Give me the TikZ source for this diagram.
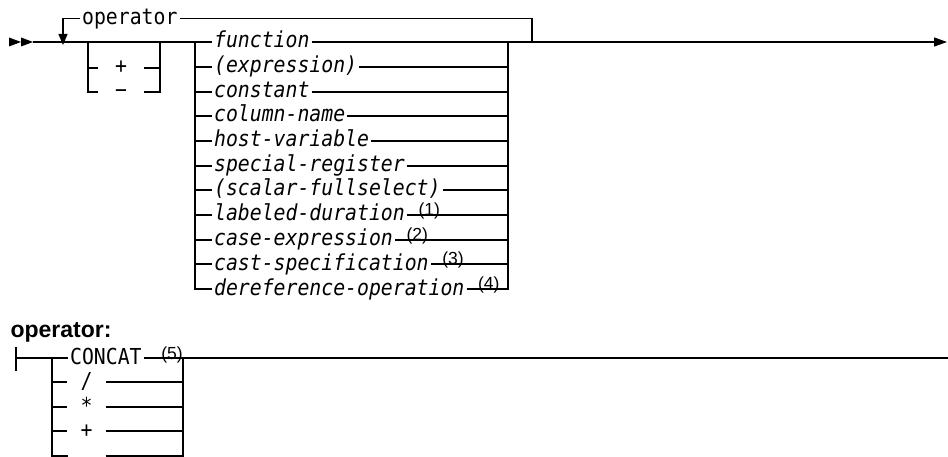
\documentclass[tikz,border=0pt]{standalone}
\usepackage{fontspec}
\setmainfont{Liberation Sans}
\newfontfamily\synmono[FakeStretch=0.9]{DejaVu Sans Mono}
\usetikzlibrary{positioning,arrows.meta}

\begin{document}
\begin{tikzpicture}[x=1pt,y=-1pt,line width=1.2pt,
    kw/.style={font=\synmono\fontsize{22}{24}\selectfont,inner sep=0pt,inner xsep=1.5pt,
        text height=17pt,text depth=5pt},
    var/.style={kw,font=\synmono\itshape\fontsize{22}{24}\selectfont,anchor=west},
    opsym/.style={kw,minimum width=38pt},
    note/.style={font=\fontsize{17.5}{19}\selectfont,inner sep=0pt,anchor=base west},
    tip/.style={-{Triangle[length=13pt,width=9pt]}}]

    \useasboundingbox (0,0) rectangle (948,457);

    % main line
    \fill (9,37.5) -- (21,42) -- (9,46.5) -- cycle;
    \fill (21,37.5) -- (33,42) -- (21,46.5) -- cycle;
    \coordinate (in) at (33,42);
    \coordinate (split) at (195,42);
    \coordinate (join) at (508,42);
    \coordinate (out) at (947,42);
    \draw (in) -- (split);
    \draw[tip] (join) -- (out);

    % repeat loop
    \node[kw,anchor=west] (oploop) at (80,18.5) {operator};
    \draw (532,42) |- (oploop.east);
    \draw[-{Triangle[length=11pt,width=9pt]}] (oploop.west) -| (63,45);

    % optional sign
    \node[kw,minimum width=44pt] (plus) at (121,68) {+};
    \node[kw,minimum width=44pt] (minus) at (121,92) {−};
    \draw (88,42) |- (minus.west);
    \draw (88,68) -- (plus.west);
    \draw (plus.east) -- (160,68);
    \draw (minus.east) -| (160,42);

    % operands
    \node[var] (fn) at (212,42) {function};
    \node[var] (expr) at (212,67) {(expression)};
    \node[var] (const) at (212,92) {constant};
    \node[var] (col) at (212,116) {column-name};
    \node[var] (hostvar) at (212,141) {host-variable};
    \node[var] (specreg) at (212,166) {special-register};
    \node[var] (fullsel) at (212,190) {(scalar-fullselect)};
    \node[var] (labdur) at (212,215) {labeled-duration};
    \node[var] (caseexp) at (212,240) {case-expression};
    \node[var] (castspec) at (212,264) {cast-specification};
    \node[var] (deref) at (212,289) {dereference-operation};

    \node[note] (n1) at ([xshift=11pt,yshift=-1pt]labdur.east) {(1)};
    \node[note] (n2) at ([xshift=11pt,yshift=-1pt]caseexp.east) {(2)};
    \node[note] (n3) at ([xshift=11pt,yshift=-1pt]castspec.east) {(3)};
    \node[note] (n4) at ([xshift=11pt,yshift=-1pt]deref.east) {(4)};

    \draw (split) |- (deref.west);
    \draw (split) -- (fn.west);
    \draw (195,67) -- (expr.west);
    \draw (195,92) -- (const.west);
    \draw (195,116) -- (col.west);
    \draw (195,141) -- (hostvar.west);
    \draw (195,166) -- (specreg.west);
    \draw (195,190) -- (fullsel.west);
    \draw (195,215) -- (labdur.west);
    \draw (195,240) -- (caseexp.west);
    \draw (195,264) -- (castspec.west);

    \draw (fn.east) -- (join);
    \draw (expr.east) -- (508,67);
    \draw (const.east) -- (508,92);
    \draw (col.east) -- (508,116);
    \draw (hostvar.east) -- (508,141);
    \draw (specreg.east) -- (508,166);
    \draw (fullsel.east) -- (508,190);
    \draw (labdur.east) -- (508,215);
    \draw (caseexp.east) -- (508,240);
    \draw (castspec.east) -- (508,264);
    \draw (deref.east) -| (join);

    % operator fragment
    \node[font=\bfseries\fontsize{23}{26}\selectfont,anchor=base west,inner sep=0pt]
        (title) at (10,337) {operator:};
    \draw (16,347) -- (16,371);
    \node[kw,anchor=west] (concat) at (68,358) {CONCAT};
    \node[note] (n5) at ([xshift=17pt,yshift=-1pt]concat.east) {(5)};
    \draw (16,358) -- (concat.west);
    \draw (concat.east) -- (948,358);
    \draw (52,358) -- (52,457);
    \draw (183,358) -- (183,457);

    \node[opsym] (slash) at (86.5,382) {/};
    \node[opsym] (star) at (86.5,407) {*};
    \node[opsym] (add) at (86.5,431) {+};
    \draw (52,382) -- (slash.west);
    \draw (slash.east) -- (183,382);
    \draw (52,407) -- (star.west);
    \draw (star.east) -- (183,407);
    \draw (52,431) -- (add.west);
    \draw (add.east) -- (183,431);
    \draw (52,456) -- (67.5,456);
    \draw (105.5,456) -- (183,456);

\end{tikzpicture}
\end{document}
